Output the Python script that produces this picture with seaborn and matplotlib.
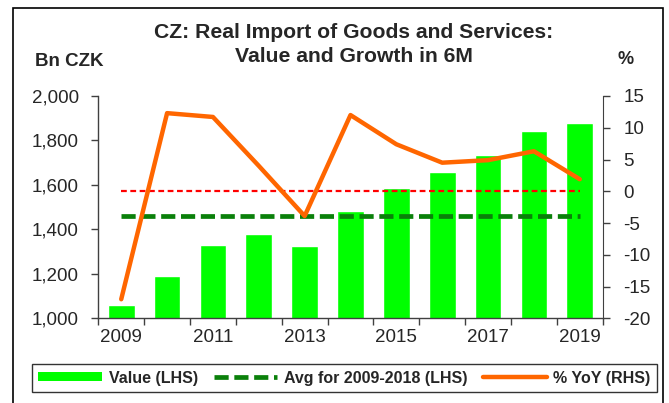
import numpy as np
import pandas as pd
import matplotlib
matplotlib.use('Agg')
import matplotlib.pyplot as plt
import matplotlib.patches as mpatches
from matplotlib.lines import Line2D
from matplotlib.ticker import FuncFormatter
import seaborn as sns

# Данные
years = ['2009', '2010', '2011', '2012', '2013', '2014', '2015', '2016', '2017', '2018', '2019']
import_value = [1060, 1190, 1330, 1378, 1324, 1483, 1587, 1658, 1735, 1843, 1877]
yoy_pct = [-17.0, 12.3, 11.7, 4.0, -3.9, 12.0, 7.4, 4.5, 4.9, 6.3, 1.9]
avg_2009_2018 = 1460
zero_line = 0

BAR_GREEN = '#00ff00'
AVG_GREEN = '#0a800a'
ORANGE = '#ff6600'


def main():
    sns.set_style('white')
    plt.rcParams['font.family'] = ['Liberation Sans', 'DejaVu Sans']
    plt.rcParams['axes.unicode_minus'] = False

    df = pd.DataFrame({'year': years, 'value': import_value, 'yoy': yoy_pct})
    pos = np.arange(len(df))

    fig = plt.figure(figsize=(6.69, 4.03), dpi=100)
    ax = fig.add_axes([98.3 / 669, 1 - 318.3 / 403, (602.7 - 98.3) / 669, (318.3 - 96) / 403])

    # Столбцы (LHS)
    sns.barplot(data=df, x='year', y='value', color=BAR_GREEN, saturation=1, width=0.58, ax=ax, zorder=2)
    # Среднее за 2009-2018 (LHS)
    sns.lineplot(x=pos, y=[avg_2009_2018] * len(pos), ax=ax, color=AVG_GREEN, linewidth=3.4,
                 linestyle=(0, (3.0, 1.2)), zorder=3)

    ax.set_xlim(-0.5, len(pos) - 0.5)
    ax.set_ylim(1000, 2000)
    ax.set_yticks(np.arange(1000, 2001, 200))
    ax.yaxis.set_major_formatter(FuncFormatter(lambda v, p: f'{int(v):,}'))
    ax.set_xlabel('')
    ax.set_ylabel('')

    # тики по границам категорий, подписи через год
    ax.set_xticks(np.arange(-0.5, len(pos), 1))
    ax.set_xticklabels([''] * (len(pos) + 1))
    ax.set_xticks(pos[::2], minor=True)
    ax.set_xticklabels(years[::2], minor=True)
    ax.tick_params(axis='x', which='major', direction='out', length=5, width=1, color='#404040', bottom=True)
    ax.tick_params(axis='x', which='minor', length=0, pad=8, labelsize=13.5)
    ax.tick_params(axis='y', direction='out', length=5, width=1, color='#404040', left=True, pad=9, labelsize=13.5)

    for s in ['left', 'bottom']:
        ax.spines[s].set_color('#404040')
        ax.spines[s].set_linewidth(1)
    ax.spines['top'].set_visible(False)
    ax.spines['right'].set_visible(False)

    # % YoY (RHS)
    ax2 = ax.twinx()
    sns.lineplot(x=pos, y=[zero_line] * len(pos), ax=ax2, color='red', linewidth=1.6,
                 linestyle=(0, (2.6, 1.6)))
    sns.lineplot(x=pos, y=df['yoy'], ax=ax2, color=ORANGE, linewidth=3.2)
    ax2.set_ylim(-20, 15)
    ax2.set_yticks(np.arange(-20, 16, 5))
    ax2.set_ylabel('')
    ax2.tick_params(axis='y', direction='out', length=5, width=1, color='#404040', right=True, pad=10, labelsize=13.5)
    ax2.spines['top'].set_visible(False)
    ax2.spines['left'].set_visible(False)
    ax2.spines['bottom'].set_visible(False)
    ax2.spines['right'].set_color('#404040')
    ax2.set_xlim(-0.5, len(pos) - 0.5)

    # Заголовок и подписи осей
    fig.text(354 / 669, 1 - 33 / 403, 'CZ: Real Import of Goods and Services:',
             ha='center', va='center', fontsize=15.2, fontweight='bold')
    fig.text(354 / 669, 1 - 56 / 403, 'Value and Growth in 6M',
             ha='center', va='center', fontsize=15.2, fontweight='bold')
    fig.text(35 / 669, 1 - 62 / 403, 'Bn CZK', ha='left', va='center', fontsize=13.5, fontweight='bold')
    fig.text(626 / 669, 1 - 60 / 403, '%', ha='center', va='center', fontsize=13, fontweight='bold')

    # Легенда
    handles = [
        mpatches.Patch(facecolor=BAR_GREEN, edgecolor='none', label='Value (LHS)'),
        Line2D([], [], color=AVG_GREEN, linewidth=3.4, linestyle=(0, (3.0, 1.2)), label='Avg for 2009-2018 (LHS)'),
        Line2D([], [], color=ORANGE, linewidth=3.2, label='% YoY (RHS)'),
    ]
    leg = fig.legend(handles=handles, loc='center', ncol=3, mode='expand',
                     bbox_to_anchor=(32 / 669, 1 - 395 / 403, (657 - 32) / 669, 34 / 403),
                     prop={'weight': 'bold', 'size': 11.5}, handlelength=4, handleheight=0.5,
                     handletextpad=0.4, borderaxespad=0, frameon=True, fancybox=False)
    leg.get_frame().set_edgecolor('black')
    leg.get_frame().set_linewidth(1)

    # Рамка вокруг графика
    fig.patches.append(mpatches.Rectangle((13 / 669, -0.05), (663 - 13) / 669, 1.05 - 8 / 403,
                                          transform=fig.transFigure, fill=False,
                                          edgecolor='black', linewidth=1.2))

    fig.savefig('out.png', dpi=100)
    plt.close('all')


if __name__ == '__main__':
    main()
